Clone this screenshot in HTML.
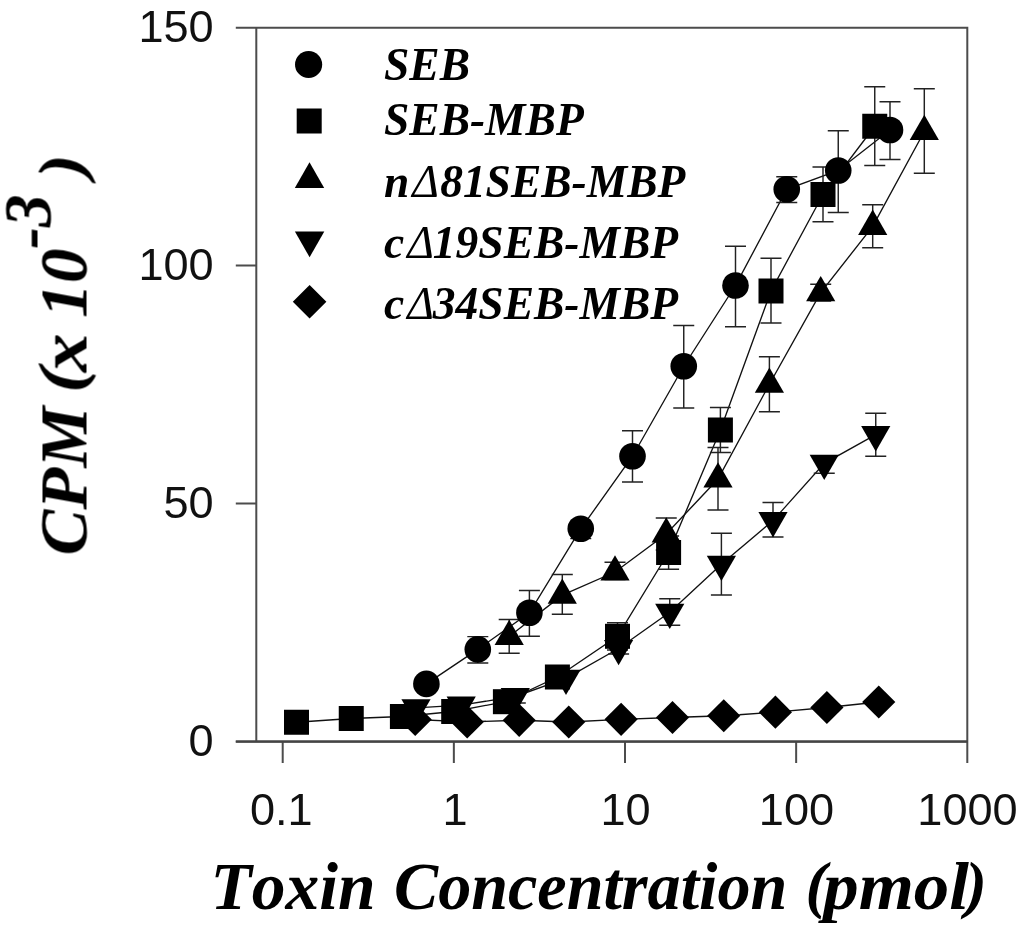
<!DOCTYPE html>
<html lang="en"><head><meta charset="utf-8"><title>Toxin Concentration vs CPM</title>
<style>
html,body{margin:0;padding:0;background:#fff}
body{width:1024px;height:930px;overflow:hidden}
svg{display:block}
.ax{fill:none;stroke:#4c4c4c;stroke-width:2}
.axb{fill:none;stroke:#444;stroke-width:2.4}
.dl{fill:none;stroke:#111;stroke-width:1.35}
.eb{fill:none;stroke:#222;stroke-width:1.45}
.mk{fill:#000}
.soft{filter:blur(0.4px)}
.tk{font-family:"Liberation Sans",Arial,sans-serif;font-size:44px;fill:#111}
.lg{font-family:"Liberation Serif","Times New Roman",serif;font-weight:bold;font-style:italic;font-size:46px;fill:#000}
.dl2{font-weight:normal}
.ti{font-kerning:none;font-family:"Liberation Serif","Times New Roman",serif;font-weight:bold;font-style:italic;fill:#000}
</style></head>
<body>
<svg width="1024" height="930" viewBox="0 0 1024 930">
<rect width="1024" height="930" fill="#fff"/>
<g class="soft">
<path class="ax" d="M256.3 27.7H967.3V741.6H256.3ZM235.8 27.7H256.3M235.8 265.6H256.3M235.8 503.6H256.3M235.8 741.6H256.3M282.7 741.6V762.9M453.85 741.6V762.9M625 741.6V762.9M796.15 741.6V762.9M967.3 741.6V762.9"/>
<path class="axb" d="M235.8 741.6H967.6"/>
<text class="tk" text-anchor="end" transform="translate(213.7 42) scale(1.025 1)">150</text>
<text class="tk" text-anchor="end" transform="translate(213.7 279.9) scale(1.025 1)">100</text>
<text class="tk" text-anchor="end" transform="translate(213.7 517.9) scale(1.025 1)">50</text>
<text class="tk" text-anchor="end" transform="translate(213.7 755.9) scale(1.025 1)">0</text>
<text class="tk" text-anchor="middle" transform="translate(281.3 824.5) scale(1.025 1)">0.1</text>
<text class="tk" text-anchor="middle" transform="translate(455.15 824.5) scale(1.025 1)">1</text>
<text class="tk" text-anchor="middle" transform="translate(625.6 824.5) scale(1.025 1)">10</text>
<text class="tk" text-anchor="middle" transform="translate(796.45 824.5) scale(1.025 1)">100</text>
<text class="tk" text-anchor="middle" transform="translate(967.5 824.5) scale(1.025 1)">1000</text>
<polyline class="dl" points="426.4,683.9 477.8,649.4 529.4,612.75 580.75,528.75 632.5,456.25 683.75,366.25 735.5,285.5 786.75,189.25 838.25,170.5 890,130"/>
<path class="eb" d="M477.8 636.6V663M467.3 636.6H488.3M467.3 663H488.3M529.4 590.5V636.3M518.9 590.5H539.9M518.9 636.3H539.9M580.75 521.5V538.6M570.25 521.5H591.25M570.25 538.6H591.25M632.5 430.75V482M622 430.75H643M622 482H643M683.75 325.5V408M673.25 325.5H694.25M673.25 408H694.25M735.5 246.25V326.75M725 246.25H746M725 326.75H746M786.75 176.75V202.5M776.25 176.75H797.25M776.25 202.5H797.25M838.25 130.75V212.5M827.75 130.75H848.75M827.75 212.5H848.75M890 101.75V159.5M879.5 101.75H900.5M879.5 159.5H900.5"/>
<polyline class="dl" points="296.5,722.25 351.25,718.5 402.4,716.5 453.7,711.5 505.4,701.7 557.4,677 617.5,636.3 668.6,552.5 720.4,430 771,291 823,194.5 874.75,126.25"/>
<path class="eb" d="M617.5 622.7V650M607 622.7H628M607 650H628M668.6 536V569.3M658.1 536H679.1M658.1 569.3H679.1M720.4 407.5V452.5M709.9 407.5H730.9M709.9 452.5H730.9M771 258.25V323M760.5 258.25H781.5M760.5 323H781.5M823 167V221.75M812.5 167H833.5M812.5 221.75H833.5M874.75 86.75V165.5M864.25 86.75H885.25M864.25 165.5H885.25"/>
<polyline class="dl" points="509.2,636.5 562.3,595.2 615,572 666.25,534 718,479 769.4,384.3 820.7,292.7 872.7,226.4 924.3,131.5"/>
<path class="eb" d="M509.2 619.5V653.25M498.7 619.5H519.7M498.7 653.25H519.7M562.3 574.5V614.25M551.8 574.5H572.8M551.8 614.25H572.8M615 562.3V579.5M604.5 562.3H625.5M604.5 579.5H625.5M666.25 518V550M655.75 518H676.75M655.75 550H676.75M718 447.5V510M707.5 447.5H728.5M707.5 510H728.5M769.4 356.75V411.75M758.9 356.75H779.9M758.9 411.75H779.9M820.7 284.25V301M810.2 284.25H831.2M810.2 301H831.2M872.7 204.7V247.8M862.2 204.7H883.2M862.2 247.8H883.2M924.3 88.75V173.25M913.8 88.75H934.8M913.8 173.25H934.8"/>
<polyline class="dl" points="416,707.8 461.2,705.1 515.3,696.5 566,678.3 618.6,648.5 669.75,612.3 721.4,564.3 773,520.6 824.25,463.3 875.75,434.6"/>
<path class="eb" d="M515.3 690V703M504.8 690H525.8M504.8 703H525.8M618.6 643V654M608.1 643H629.1M608.1 654H629.1M669.75 598.75V625.3M659.25 598.75H680.25M659.25 625.3H680.25M721.4 533.3V595M710.9 533.3H731.9M710.9 595H731.9M773 502.5V537M762.5 502.5H783.5M762.5 537H783.5M824.25 455.6V473.3M813.75 455.6H834.75M813.75 473.3H834.75M875.75 413.25V456.25M865.25 413.25H886.25M865.25 456.25H886.25"/>
<polyline class="dl" points="415.2,719.5 467.2,721.9 519.2,720.3 568.75,722 621.1,719.3 672.5,717.5 723.75,715.75 775.4,712.2 826.9,707.5 878.75,702"/>
<g class="mk">
<circle cx="426.4" cy="683.9" r="13.3"/>
<circle cx="477.8" cy="649.4" r="13.3"/>
<circle cx="529.4" cy="612.75" r="13.3"/>
<circle cx="580.75" cy="528.75" r="13.3"/>
<circle cx="632.5" cy="456.25" r="13.3"/>
<circle cx="683.75" cy="366.25" r="13.3"/>
<circle cx="735.5" cy="285.5" r="13.3"/>
<circle cx="786.75" cy="189.25" r="13.3"/>
<circle cx="838.25" cy="170.5" r="13.3"/>
<circle cx="890" cy="130" r="13.3"/>
<rect x="284" y="709.75" width="25" height="25"/>
<rect x="338.75" y="706" width="25" height="25"/>
<rect x="389.9" y="704" width="25" height="25"/>
<rect x="441.2" y="699" width="25" height="25"/>
<rect x="492.9" y="689.2" width="25" height="25"/>
<rect x="544.9" y="664.5" width="25" height="25"/>
<rect x="605" y="623.8" width="25" height="25"/>
<rect x="656.1" y="540" width="25" height="25"/>
<rect x="707.9" y="417.5" width="25" height="25"/>
<rect x="758.5" y="278.5" width="25" height="25"/>
<rect x="810.5" y="182" width="25" height="25"/>
<rect x="862.25" y="113.75" width="25" height="25"/>
<polygon points="509.2,619.7 523.8,645 494.6,645"/>
<polygon points="562.3,578.4 576.9,603.7 547.7,603.7"/>
<polygon points="615,555.2 629.6,580.5 600.4,580.5"/>
<polygon points="666.25,517.2 680.85,542.5 651.65,542.5"/>
<polygon points="718,462.2 732.6,487.5 703.4,487.5"/>
<polygon points="769.4,367.5 784,392.8 754.8,392.8"/>
<polygon points="820.7,275.9 835.3,301.2 806.1,301.2"/>
<polygon points="872.7,209.6 887.3,234.9 858.1,234.9"/>
<polygon points="924.3,114.7 938.9,140 909.7,140"/>
<polygon points="416,724.6 430.6,699.3 401.4,699.3"/>
<polygon points="461.2,721.9 475.8,696.6 446.6,696.6"/>
<polygon points="515.3,713.3 529.9,688 500.7,688"/>
<polygon points="566,695.1 580.6,669.8 551.4,669.8"/>
<polygon points="618.6,665.3 633.2,640 604,640"/>
<polygon points="669.75,629.1 684.35,603.8 655.15,603.8"/>
<polygon points="721.4,581.1 736,555.8 706.8,555.8"/>
<polygon points="773,537.4 787.6,512.1 758.4,512.1"/>
<polygon points="824.25,480.1 838.85,454.8 809.65,454.8"/>
<polygon points="875.75,451.4 890.35,426.1 861.15,426.1"/>
<polygon points="415.2,702.9 431.8,719.5 415.2,736.1 398.6,719.5"/>
<polygon points="467.2,705.3 483.8,721.9 467.2,738.5 450.6,721.9"/>
<polygon points="519.2,703.7 535.8,720.3 519.2,736.9 502.6,720.3"/>
<polygon points="568.75,705.4 585.35,722 568.75,738.6 552.15,722"/>
<polygon points="621.1,702.7 637.7,719.3 621.1,735.9 604.5,719.3"/>
<polygon points="672.5,700.9 689.1,717.5 672.5,734.1 655.9,717.5"/>
<polygon points="723.75,699.15 740.35,715.75 723.75,732.35 707.15,715.75"/>
<polygon points="775.4,695.6 792,712.2 775.4,728.8 758.8,712.2"/>
<polygon points="826.9,690.9 843.5,707.5 826.9,724.1 810.3,707.5"/>
<polygon points="878.75,685.4 895.35,702 878.75,718.6 862.15,702"/>
<circle cx="308.6" cy="64.5" r="13.6"/>
<rect x="296.7" y="108.5" width="25" height="25"/>
<polygon points="309.5,162.2 324.2,187.9 294.8,187.9"/>
<polygon points="309.6,257.3 324.3,231.6 294.9,231.6"/>
<polygon points="309.6,284.9 326.4,301.7 309.6,318.5 292.8,301.7"/>
</g>
<text class="lg" transform="translate(384 80.2) scale(0.989 1)">SEB</text>
<text class="lg" transform="translate(384 135.4) scale(0.989 1)">SEB-MBP</text>
<text class="lg" transform="translate(384 197) scale(0.989 1)">n<tspan class="dl2" dx="3">Δ</tspan><tspan dx="1.2">81SEB-MBP</tspan></text>
<text class="lg" transform="translate(384 258) scale(0.989 1)">c<tspan class="dl2" dx="3">Δ</tspan><tspan dx="-1">19SEB-MBP</tspan></text>
<text class="lg" transform="translate(384 319.2) scale(0.989 1)">c<tspan class="dl2" dx="3">Δ</tspan><tspan dx="-1">34SEB-MBP</tspan></text>
<g id="xtitle">
<text class="ti" font-size="67.5" transform="translate(210.5 908.7) scale(1 1)">Toxin</text>
<text class="ti" font-size="67.5" transform="translate(394.04 908.7) scale(0.98 1)">Concentration</text>
<text class="ti" font-size="64" transform="translate(805.5 905.7) scale(1 1)">(</text>
<text class="ti" font-size="67.5" transform="translate(823.24 908.7) scale(1.05 1)">pmol</text>
<text class="ti" font-size="64" transform="translate(965.5 905.7) scale(1 1)">)</text>
</g>
<g id="ytitle" transform="translate(86.5 553.4) rotate(-90)">
<text class="ti" font-size="68" transform="translate(-2.01 0) scale(1.01 1)">CPM</text>
<text class="ti" font-size="64" transform="translate(160.45 -4) scale(1.18 1)">(</text>
<text class="ti" font-size="68" transform="translate(181.34 0) scale(1.14 1)">x</text>
<text class="ti" font-size="68" transform="translate(235.58 0) scale(1.02 1)">10</text>
<text class="ti" font-size="68" transform="translate(304.44 -36) scale(0.96 1)">-3</text>
<text class="ti" font-size="64" transform="translate(375.27 -4) scale(1.13 1)">)</text>
</g>
</g>
</svg>
</body></html>
